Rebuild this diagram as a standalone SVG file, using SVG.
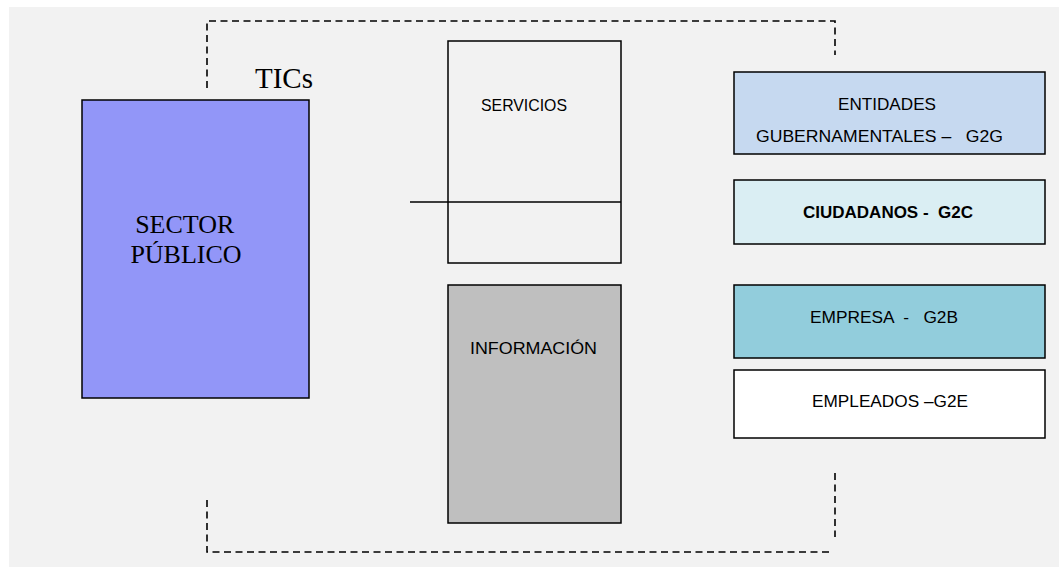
<svg xmlns="http://www.w3.org/2000/svg" width="1059" height="567" viewBox="0 0 1059 567">
  <style>
    .box { stroke: #000; stroke-width: 1.5; }
    .sans { font-family: "Liberation Sans", Arial, sans-serif; font-size: 17px; fill: #000; }
    .serif { font-family: "Liberation Serif", "Times New Roman", serif; fill: #000; }
    .dash { fill: none; stroke: #000; stroke-width: 1.6; stroke-dasharray: 7 4.5; }
  </style>
  <rect x="0" y="0" width="1059" height="567" fill="#ffffff"/>
  <rect x="9" y="7" width="1050" height="560" fill="#f2f2f2"/>

  <g id="connectors">
    <polyline class="dash" points="207,88 207,21 835,21 835,55"/>
    <polyline class="dash" points="207,500 207,552 830,552"/>
    <line class="dash" x1="835" y1="473" x2="835" y2="537"/>
    <line x1="410" y1="202" x2="621" y2="202" stroke="#000" stroke-width="1.6"/>
  </g>

  <g id="tics">
    <text class="serif" x="255" y="88" font-size="29">TICs</text>
  </g>

  <g id="sector-publico">
    <rect class="box" x="82" y="100" width="227" height="298" fill="#9296f8"/>
    <text class="serif" font-size="26" text-anchor="middle">
      <tspan x="188" y="233">SECTOR</tspan>
      <tspan x="186" y="263">PÚBLICO</tspan>
    </text>
  </g>

  <g id="servicios">
    <rect class="box" x="448" y="41" width="173" height="222" fill="none"/>
    <text class="sans" x="481" y="111" textLength="86" lengthAdjust="spacingAndGlyphs">SERVICIOS</text>
  </g>

  <g id="informacion">
    <rect class="box" x="448" y="285" width="173" height="238" fill="#bfbfbf"/>
    <text class="sans" x="470" y="354" textLength="127" lengthAdjust="spacingAndGlyphs">INFORMACIÓN</text>
  </g>

  <g id="entidades">
    <rect class="box" x="734" y="72" width="311" height="82" fill="#c6d9f0"/>
    <text class="sans" x="838" y="110" textLength="98" lengthAdjust="spacingAndGlyphs">ENTIDADES</text>
    <text class="sans" x="756" y="142" textLength="247" lengthAdjust="spacingAndGlyphs" xml:space="preserve">GUBERNAMENTALES –   G2G</text>
  </g>

  <g id="ciudadanos">
    <rect class="box" x="734" y="180" width="311" height="64" fill="#daeef3"/>
    <text class="sans" x="803" y="218" font-weight="bold" textLength="170" lengthAdjust="spacingAndGlyphs" xml:space="preserve">CIUDADANOS -  G2C</text>
  </g>

  <g id="empresa">
    <rect class="box" x="734" y="285" width="311" height="73" fill="#92cddc"/>
    <text class="sans" x="810" y="323" textLength="148" lengthAdjust="spacingAndGlyphs" xml:space="preserve">EMPRESA  -   G2B</text>
  </g>

  <g id="empleados">
    <rect class="box" x="734" y="370" width="311" height="68" fill="#ffffff"/>
    <text class="sans" x="812" y="407" textLength="156" lengthAdjust="spacingAndGlyphs">EMPLEADOS –G2E</text>
  </g>
</svg>
